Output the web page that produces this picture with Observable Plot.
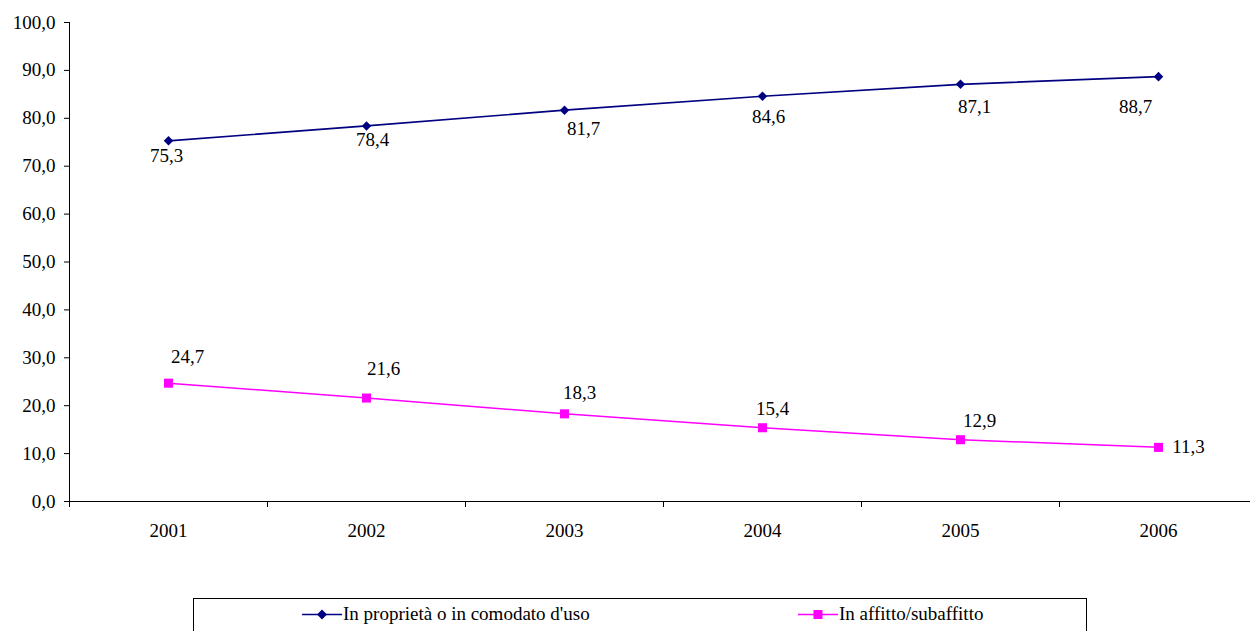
<!DOCTYPE html>
<html>
<head>
<meta charset="utf-8">
<script src="https://cdn.jsdelivr.net/npm/d3@7"></script>
<script src="https://cdn.jsdelivr.net/npm/@observablehq/plot@0.6"></script>
<style>
  html, body { margin: 0; padding: 0; background: #fff; overflow: hidden; }
  #wrap { position: relative; width: 1250px; height: 631px; }
  #legend {
    position: absolute; left: 193px; top: 598px; width: 894px; height: 44px;
    border: 1px solid #000; box-sizing: border-box;
    font-family: "Liberation Serif", "Times New Roman", serif; font-size: 19px; color: #000;
  }
  .item { position: absolute; top: 0; height: 30px; display: flex; align-items: center; white-space: nowrap; }
  .item svg { display: block; margin-right: 1px; }
</style>
</head>
<body>
<div id="wrap">
  <div id="chart"></div>
  <div id="legend"></div>
</div>
<script>
// Quota delle famiglie per titolo di godimento dell'abitazione, 2001-2006
const years = [2001, 2002, 2003, 2004, 2005, 2006];
const ownedValues = [75.3, 78.4, 81.7, 84.6, 87.1, 88.7];
const rentedValues = [24.7, 21.6, 18.3, 15.4, 12.9, 11.3];
const seriesNames = ["In proprietà o in comodato d'uso", "In affitto/subaffitto"];
const seriesColors = ["#000080", "#FF00FF"];
const yTicks = [0, 10, 20, 30, 40, 50, 60, 70, 80, 90, 100];

// Label nudges (dx, dy) for each data label, in pixels
const ownedLabelNudge = [[-2, 15], [6, 14], [19, 19], [6, 21], [14, 23], [-23, 30]];
const rentedLabelNudge = [[19, -26], [17, -29], [15, -21], [10, -19], [19, -19], [30, 0]];

const fmt = d => d.toFixed(1).replace(".", ",");

const owned = years.map((year, i) => ({year, value: ownedValues[i]}));
const rented = years.map((year, i) => ({year, value: rentedValues[i]}));

// Category boundaries: ticks sit between the years
const boundaries = years.map(y => y - 0.5).concat([years[years.length - 1] + 0.5]);

const labelMarks = (rows, nudges) => rows.map((row, i) =>
  Plot.text([row], {
    x: "year", y: "value", text: d => fmt(d.value),
    dx: nudges[i][0], dy: nudges[i][1],
    fill: "#000", fontSize: 19
  })
);

const chart = Plot.plot({
  width: 1250,
  height: 590,
  marginLeft: 69,
  marginRight: -7,
  marginTop: 22,
  marginBottom: 89,
  style: {
    fontFamily: "'Liberation Serif', 'Times New Roman', serif",
    fontSize: "19px",
    color: "#000",
    background: "#fff",
    overflow: "hidden"
  },
  x: {domain: [boundaries[0], boundaries[boundaries.length - 1]]},
  y: {domain: [0, 100]},
  marks: [
    Plot.axisY({ticks: yTicks, tickSize: 5, tickPadding: 9, tickFormat: fmt, label: null, stroke: "#000"}),
    Plot.axisX({ticks: boundaries, tickSize: 6, tickFormat: () => "", label: null, stroke: "#000"}),
    Plot.axisX({ticks: years, tickSize: 0, tickPadding: 22, tickFormat: d => String(d), label: null}),
    Plot.ruleX([boundaries[0]], {stroke: "#000"}),
    Plot.ruleY([0], {stroke: "#000"}),
    Plot.line(owned, {x: "year", y: "value", stroke: seriesColors[0], strokeWidth: 1.7}),
    Plot.line(rented, {x: "year", y: "value", stroke: seriesColors[1], strokeWidth: 1.5}),
    Plot.dot(owned, {x: "year", y: "value", symbol: "diamond2", r: 4.3, fill: seriesColors[0], stroke: "none"}),
    Plot.dot(rented, {x: "year", y: "value", symbol: "square", r: 5.1, fill: seriesColors[1], stroke: "none"}),
    ...labelMarks(owned, ownedLabelNudge),
    ...labelMarks(rented, rentedLabelNudge)
  ]
});
document.getElementById("chart").appendChild(chart);

// Legend below the chart
const legend = document.getElementById("legend");
const legendLeft = [108, 604];
const legendSymbols = [
  '<path d="M20,10.5L25,15.5L20,20.5L15,15.5Z"/>',
  '<rect x="15.5" y="11" width="9" height="9"/>'
];
seriesNames.forEach((name, i) => {
  const item = document.createElement("div");
  item.className = "item";
  item.style.left = legendLeft[i] + "px";
  item.innerHTML =
    `<svg width="40" height="30" viewBox="0 0 40 30">` +
    `<line x1="0" x2="40" y1="15.5" y2="15.5" stroke="${seriesColors[i]}" stroke-width="1.6"/>` +
    `<g fill="${seriesColors[i]}">${legendSymbols[i]}</g></svg>` +
    `<span>${name}</span>`;
  legend.appendChild(item);
});
</script>
</body>
</html>
